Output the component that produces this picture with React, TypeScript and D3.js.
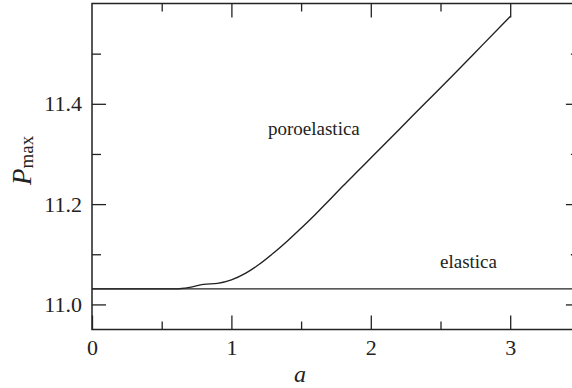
import React, { useEffect, useRef } from 'react';
import * as d3 from 'd3';

// a values and the two P_max curves
const aValues = [0, 0.5, 0.6, 0.7, 0.8, 0.9, 1.0, 1.1, 1.2, 1.3, 1.4, 1.5, 1.6, 1.7, 1.8, 1.9, 2.0, 2.2, 2.4, 2.6, 2.8, 3.0];
const poroelastica = [11.031, 11.031, 11.031, 11.034, 11.040, 11.042, 11.049, 11.062, 11.080, 11.102, 11.126, 11.152, 11.179, 11.207, 11.236, 11.264, 11.292, 11.348, 11.404, 11.460, 11.517, 11.574];
const elasticaValue = 11.031;

const xMajorTicks = [0, 1, 2, 3];
const xMinorTicks = [0.5, 1.5, 2.5, 3.5];
const yMajorTicks = [11.0, 11.2, 11.4];
const yMinorTicks = [11.1, 11.3, 11.5];

function App() {
    const svgRef = useRef<SVGSVGElement>(null);
    const w = 572;
    const h = 388;

    useEffect(() => {
        const svg = d3.select(svgRef.current);
        svg.selectAll('*').remove();

        const x = d3.scaleLinear().domain([0, 3.5]).range([92, 579.9]);
        const y = d3.scaleLinear().domain([10.95, 11.6]).range([329.5, 3.5]);
        const ink = '#222';
        const font = 'Liberation Serif, Times New Roman, serif';

        // frame
        svg.append('rect')
            .attr('x', x(0)).attr('y', y(11.6))
            .attr('width', x(3.5) - x(0)).attr('height', y(10.95) - y(11.6))
            .attr('fill', 'none').attr('stroke', ink).attr('stroke-width', 1.5);

        const styleAxis = (g: any) => {
            g.attr('font-family', font).attr('font-size', 22);
            g.select('.domain').remove();
            g.selectAll('line').attr('stroke', ink).attr('stroke-width', 1.3);
            g.selectAll('text').attr('fill', ink);
        };

        // bottom
        svg.append('g').attr('transform', `translate(0,${y(10.95)})`)
            .call(d3.axisBottom(x).tickValues(xMajorTicks).tickSize(-14).tickPadding(10).tickFormat(d3.format('d')))
            .call(styleAxis);
        svg.append('g').attr('transform', `translate(0,${y(10.95)})`)
            .call(d3.axisBottom(x).tickValues(xMinorTicks).tickSize(-8).tickFormat(() => ''))
            .call(styleAxis);
        // top
        svg.append('g').attr('transform', `translate(0,${y(11.6)})`)
            .call(d3.axisTop(x).tickValues(xMajorTicks.slice(1)).tickSize(-14).tickFormat(() => ''))
            .call(styleAxis);
        svg.append('g').attr('transform', `translate(0,${y(11.6)})`)
            .call(d3.axisTop(x).tickValues(xMinorTicks).tickSize(-8).tickFormat(() => ''))
            .call(styleAxis);
        // left
        svg.append('g').attr('transform', `translate(${x(0)},0)`)
            .call(d3.axisLeft(y).tickValues(yMajorTicks).tickSize(-14).tickPadding(10).tickFormat(d3.format('.1f')))
            .call(styleAxis);
        svg.append('g').attr('transform', `translate(${x(0)},0)`)
            .call(d3.axisLeft(y).tickValues(yMinorTicks).tickSize(-9).tickFormat(() => ''))
            .call(styleAxis);
        // right
        svg.append('g').attr('transform', `translate(${x(3.5)},0)`)
            .call(d3.axisRight(y).tickValues(yMajorTicks).tickSize(-14).tickFormat(() => ''))
            .call(styleAxis);
        svg.append('g').attr('transform', `translate(${x(3.5)},0)`)
            .call(d3.axisRight(y).tickValues(yMinorTicks).tickSize(-9).tickFormat(() => ''))
            .call(styleAxis);

        // curves
        svg.append('line')
            .attr('x1', x(0)).attr('x2', x(3.5))
            .attr('y1', y(elasticaValue)).attr('y2', y(elasticaValue))
            .attr('stroke', ink).attr('stroke-width', 1.4);

        const line = d3.line<number>()
            .x((d, i) => x(aValues[i]))
            .y(d => y(d))
            .curve(d3.curveMonotoneX);
        svg.append('path')
            .datum(poroelastica)
            .attr('d', line)
            .attr('fill', 'none').attr('stroke', ink).attr('stroke-width', 1.4);

        // labels
        const labels = svg.append('g').attr('font-family', font).attr('fill', ink);
        labels.append('text').attr('x', 268).attr('y', 135).attr('font-size', 19).text('poroelastica');
        labels.append('text').attr('x', 440).attr('y', 268).attr('font-size', 19).text('elastica');
        labels.append('text').attr('x', 300).attr('y', 382).attr('text-anchor', 'middle')
            .attr('font-size', 24).attr('font-style', 'italic').text('a');

        const yl = labels.append('text').attr('transform', 'translate(31,185) rotate(-90)');
        yl.append('tspan').attr('font-size', 27).attr('font-style', 'italic').text('P');
        yl.append('tspan').attr('font-size', 19).attr('dy', 2).text('max');
    }, []);

    return (
        <svg ref={svgRef} width={w} height={h}
            style={{ position: 'absolute', left: 0, top: 0, background: '#fff', overflow: 'hidden' }}></svg>
    );
}

export default App;
